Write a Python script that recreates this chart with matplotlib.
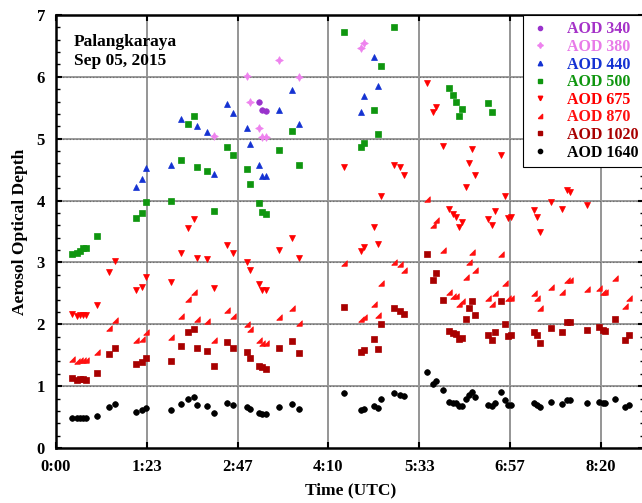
import numpy as np
import matplotlib
matplotlib.use("Agg")
import matplotlib.pyplot as plt
from matplotlib.lines import Line2D

nan = np.nan

# time (hours, UTC)
time_h = [0.25, 0.317, 0.367, 0.418, 0.459, 0.622, 0.811, 0.897,
          1.224, 1.31, 1.372, 1.764, 1.912, 2.014, 2.116, 2.157, 2.315, 2.412,
          2.61, 2.712, 2.917, 2.967, 3.11, 3.156, 3.207, 3.41, 3.614, 3.717,
          4.41, 4.66, 4.71, 4.87, 4.92, 4.966, 5.165, 5.26, 5.318,
          5.67, 5.76, 5.81, 5.915,
          6.016, 6.067, 6.118, 6.17, 6.215, 6.266, 6.317, 6.363, 6.413,
          6.612, 6.664, 6.715, 6.81, 6.863, 6.913, 6.964,
          7.31, 7.36, 7.41, 7.575, 7.735, 7.81, 7.86,
          8.126, 8.31, 8.36, 8.40, 8.55, 8.71, 8.76]

aod_1640 = [0.49, 0.48, 0.49, 0.49, 0.48, 0.52, 0.66, 0.71,
            0.59, 0.61, 0.64, 0.61, 0.71, 0.80, 0.83, 0.69, 0.68, 0.57,
            0.73, 0.70, 0.67, 0.63, 0.56, 0.55, 0.545, 0.67, 0.71, 0.63,
            0.885, 0.61, 0.63, 0.685, 0.64, 0.79, 0.885, 0.85, 0.835,
            1.23, 1.03, 1.08, 0.93,
            0.745, 0.72, 0.72, 0.685, 0.685, 0.80, 0.86, 0.90, 0.82,
            0.70, 0.675, 0.72, 0.905, 0.78, 0.70, 0.70,
            0.72, 0.69, 0.66, 0.745, 0.71, 0.78, 0.78,
            0.73, 0.75, 0.73, 0.72, 0.80, 0.66, 0.70]

aod_1020 = [1.13, 1.10, 1.12, 1.12, 1.10, 1.21, 1.52, 1.61,
            1.36, 1.39, 1.45, 1.40, 1.65, 1.87, 1.93, 1.61, 1.57, 1.33,
            1.71, 1.62, 1.56, 1.46, 1.33, 1.305, 1.28, 1.61, 1.73, 1.53,
            2.28, 1.55, 1.58, 1.76, 1.60, 2.00, 2.26, 2.22, 2.17,
            3.13, 2.71, 2.83, 2.40,
            1.89, 1.86, 1.84, 1.76, 1.785, 2.08, 2.26, 2.37, 2.15,
            1.83, 1.75, 1.87, 2.38, 2.01, 1.81, 1.82,
            1.88, 1.83, 1.70, 1.94, 1.88, 2.04, 2.03,
            1.91, 1.95, 1.90, 1.89, 2.08, 1.74, 1.82]

aod_870 = [1.44, 1.41, 1.43, 1.43, 1.43, 1.55, 1.94, 2.07,
           1.74, 1.77, 1.88, 1.80, 2.13, 2.41, 2.53, 2.08, 2.06, 1.74,
           2.23, 2.13, 2.01, 1.92, 1.74, 1.69, 1.69, 2.12, 2.27, 2.02,
           2.99, 2.08, 2.12, 2.335, 2.15, 2.66, 3.01, 2.97, 2.88,
           4.03, 3.60, 3.68, 3.20,
           2.53, 2.46, 2.45, 2.32, 2.37, 2.76, 3.00, 3.17, 2.87,
           2.42, 2.33, 2.50, 3.14, 2.675, 2.42, 2.43,
           2.51, 2.43, 2.27, 2.60, 2.52, 2.72, 2.71,
           2.57, 2.59, 2.52, 2.52, 2.75, 2.30, 2.43]

aod_675 = [2.17, 2.13, 2.15, 2.15, 2.15, 2.31, 2.85, 3.03,
           2.55, 2.61, 2.76, 2.69, 3.15, 3.56, 3.70, 3.07, 3.05, 2.58,
           3.28, 3.16, 3.015, 2.88, 2.65, 2.55, 2.55, 3.20, 3.39, 3.07,
           4.54, 3.18, 3.25, 3.58, 3.30, 4.07, 4.57, 4.55, 4.41,
           5.90, 5.43, 5.51, 4.88,
           3.87, 3.78, 3.73, 3.58, 3.65, 4.22, 4.60, 4.84, 4.41,
           3.71, 3.60, 3.83, 4.73, 4.08, 3.72, 3.73,
           3.85, 3.73, 3.50, 3.98, 3.87, 4.17, 4.14,
           3.93, nan, nan, nan, nan, nan, nan]

aod_500 = [3.13, 3.16, 3.18, 3.24, 3.23, 3.42, nan, nan,
           3.72, 3.80, 3.98, 3.99, 4.66, 5.23, 5.37, 4.54, 4.48, 3.83,
           4.87, 4.74, 4.51, 4.27, 3.96, 3.82, 3.78, 4.82, 5.13, 4.58,
           6.72, 4.86, 4.93, 5.47, 5.08, 6.18, 6.80, nan, nan,
           nan, nan, nan, nan,
           5.82, 5.70, 5.59, 5.37, 5.48, nan, nan, nan, nan,
           5.58, 5.43, nan, nan, nan, nan, nan,
           nan, nan, nan, nan, nan, nan, nan,
           nan, nan, nan, nan, nan, nan, nan]

aod_440 = [nan, nan, nan, nan, nan, nan, nan, nan,
           4.22, 4.35, 4.53, 4.57, 5.32, nan, nan, 5.21, 5.11, 4.43,
           5.56, 5.42, 5.18, 4.92, 4.57, 4.39, 4.39, 5.47, 5.78, 5.24,
           nan, 5.43, 5.69, 6.32, 5.85, nan, nan, nan, nan] + [nan] * 34

aod_380 = [nan] * 17 + [5.05, nan, nan, 6.02, 5.59, 5.17, 5.02, 5.02,
                        6.28, nan, 5.99, nan, 6.46, 6.55] + [nan] * 40

aod_340 = [nan] * 22 + [5.59, 5.46, 5.44] + [nan] * 46

tick_pos = [0, 25 / 18, 50 / 18, 75 / 18, 100 / 18, 125 / 18, 150 / 18]
tick_labels = ["0:00", "1:23", "2:47", "4:10", "5:33", "6:57", "8:20"]

series_labels = ["AOD 340", "AOD 380", "AOD 440", "AOD 500",
                 "AOD 675", "AOD 870", "AOD 1020", "AOD 1640"]

plt.rcParams['font.family'] = ['Liberation Serif', 'DejaVu Serif']
plt.rcParams['font.weight'] = 'bold'

fig = plt.figure(figsize=(6.42, 5.03), dpi=100)
ax = fig.add_axes([56 / 642, 55 / 503, 588.4 / 642, 433 / 503])

tri870 = [(-1, -1), (1, -1), (1, 1), (-1, -1)]

styles = [
    (aod_340, 'o', '#9932CC', '#A532C8', 4.0),
    (aod_380, (4, 1, 0), '#EE82EE', '#E87BE8', 5.6),
    (aod_440, '^', '#1432D2', '#1432D2', 4.3),
    (aod_500, 's', '#0F960F', '#0F960F', 4.0),
    (aod_675, 'v', '#FF0000', '#FF0000', 4.3),
    (aod_870, tri870, '#FF1010', '#FF1010', 4.0),
    (aod_1020, 's', '#A80000', '#A80000', 4.0),
    (aod_1640, 'o', '#000000', '#000000', 4.1),
]

t = np.array(time_h)
handles = []
text_colors = []
for (vals, mk, col, tcol, ms), lab in zip(styles, series_labels):
    v = np.array(vals, dtype=float)
    ax.plot(t, v, linestyle='none', marker=mk, color=col, markersize=ms,
            markeredgewidth=0.5, zorder=3)
    handles.append(Line2D([], [], linestyle='none', marker=mk, color=col,
                          markersize=ms * 0.75, label=lab))
    text_colors.append(tcol)

ax.set_xlim(0, 9.0)
ax.set_ylim(0, 7)

# grid
for xp in tick_pos[1:]:
    ax.axvline(xp, color='#8c8c8c', lw=1.3, zorder=1)
for yv in range(1, 7):
    ax.axhline(yv, color='#9a9a9a', lw=1.4, zorder=1)
    ax.axhline(yv, color='#6a6a6a', lw=0.8, ls=(0, (1, 2)), zorder=1.5)

ax.set_xticks(tick_pos)
ax.set_xticklabels(tick_labels)
ax.set_yticks(range(0, 8))
ax.set_yticks(np.arange(0, 7.01, 0.2), minor=True)
ax.tick_params(axis='both', which='major', direction='in', length=4, width=1.5,
               labelsize=12, top=True, right=True, pad=8)
ax.tick_params(axis='y', which='minor', direction='in', length=3, width=1.0,
               right=True)
for s in ax.spines.values():
    s.set_linewidth(1.8)

ax.set_xlabel("Time (UTC)", fontsize=12.5, fontweight='bold', labelpad=5)
ax.set_ylabel("Aerosol Optical Depth", fontsize=12.5, fontweight='bold', labelpad=6)

ax.text(0.03, 0.955, "Palangkaraya\nSep 05, 2015", transform=ax.transAxes,
        fontsize=12.5, fontweight='bold', va='top', ha='left', linespacing=1.2)

leg = ax.legend(handles=handles, loc='upper right', bbox_to_anchor=(1.0, 1.0),
                borderaxespad=0, frameon=True, fancybox=False, fontsize=11.5,
                handlelength=1.3, handletextpad=1.0, labelspacing=0.1,
                borderpad=0.4, edgecolor='black', framealpha=1)
leg.get_frame().set_linewidth(0.8)
for txt, c in zip(leg.get_texts(), text_colors):
    txt.set_color(c)
    txt.set_fontweight('bold')

fig.savefig("out.png", dpi=100)
